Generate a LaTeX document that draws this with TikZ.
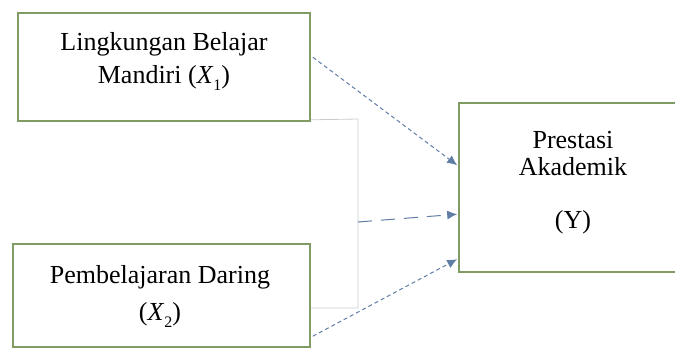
\documentclass[tikz,border=0pt]{standalone}
\usepackage{fontspec}
\setmainfont{Liberation Serif}
\usetikzlibrary{arrows.meta}
\definecolor{boxgreen}{RGB}{128,156,100}
\definecolor{linkblue}{RGB}{95,125,165}
\definecolor{railgray}{RGB}{200,204,208}
\newcommand\idx[1]{\raisebox{-0.28em}{\fontsize{16}{16}\selectfont #1}}
\tikzset{
  varbox/.style={draw=boxgreen, line width=1.6pt, fill=white, inner sep=0pt},
  label/.style={font=\fontsize{26}{30}\selectfont, anchor=base, inner sep=0pt},
  link/.style={draw=linkblue, line width=1pt, dash pattern=on 4pt off 3pt,
               -{Latex[length=10pt,width=9pt]}},
  linklong/.style={link, dash pattern=on 14pt off 9pt},
  rail/.style={draw=railgray, line width=0.8pt}
}
\begin{document}
\begin{tikzpicture}[x=1pt,y=1pt]
  \useasboundingbox (0,0) rectangle (675,-349);
  % the three variable boxes
  \node[varbox, minimum width=292pt, minimum height=108pt] (x1) at (164,-67) {};
  \node[varbox, minimum width=297pt, minimum height=103pt] (x2) at (161.5,-295.5) {};
  \node[varbox, minimum width=226pt, minimum height=169pt] (y) at (572,-187.5) {};
  % box texts
  \node[label] (x1a) at (164,-50) {Lingkungan Belajar};
  \node[label] (x1b) at (164,-83) {Mandiri (\textit{X}\idx{1})};
  \node[label] (x2a) at (160,-283) {Pembelajaran Daring};
  \node[label] (x2b) at (160,-320) {(\textit{X}\idx{2})};
  \node[label] (ya) at (573,-148) {Prestasi};
  \node[label] (yb) at (573,-175) {Akademik};
  \node[label] (yc) at (573,-228) {(Y)};
  % bracket joining the two predictors
  \coordinate (r1) at (358,-119);
  \coordinate (r2) at (358,-308);
  \coordinate (rm) at (358,-222);
  \draw[rail] ([yshift=2pt]x1.south east) -- (r1) -- (r2) -- ([yshift=-308pt]x2.north east |- 0,0);
  % effects on the outcome
  \draw[link] ([xshift=2pt,yshift=-45pt]x1.north east) -- ([xshift=-1pt,yshift=-63pt]y.north west);
  \draw[linklong] (rm) -- ([xshift=-1pt,yshift=-112pt]y.north west);
  \draw[link] ([xshift=2pt,yshift=-93pt]x2.north east) -- ([xshift=-1pt,yshift=-157pt]y.north west);
\end{tikzpicture}
\end{document}
